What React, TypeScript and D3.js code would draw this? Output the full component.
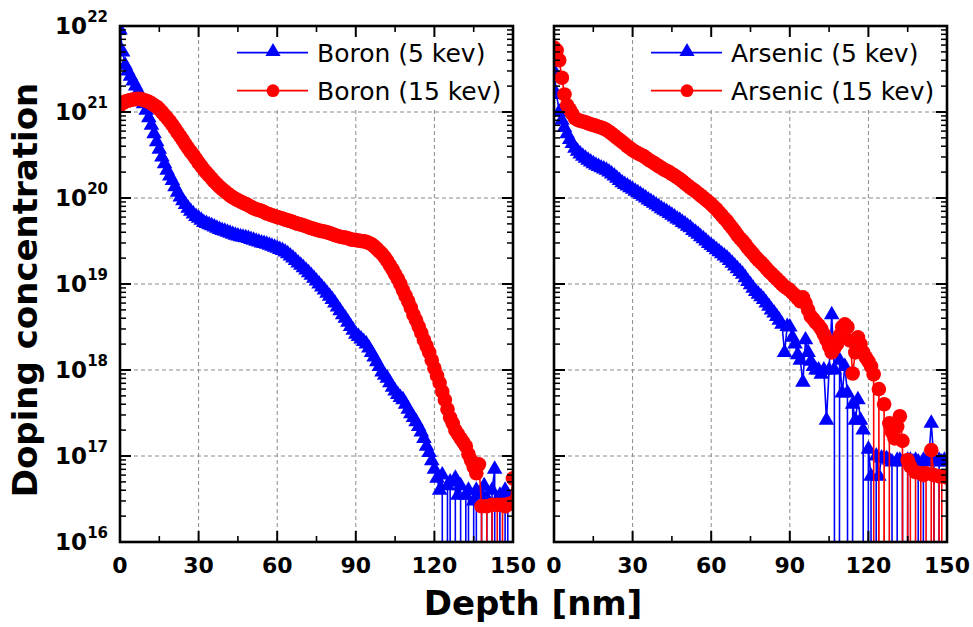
import React from "react";
import * as d3 from "d3";

const depths = [0,1,2,3,4,5,6,7,8,9,10,11,12,13,14,15,16,17,18,19,20,21,22,23,24,25,26,27,28,29,30,31,32,33,34,35,36,37,38,39,40,41,42,43,44,45,46,47,48,49,50,51,52,53,54,55,56,57,58,59,60,61,62,63,64,65,66,67,68,69,70,71,72,73,74,75,76,77,78,79,80,81,82,83,84,85,86,87,88,89,90,91,92,93,94,95,96,97,98,99,100,101,102,103,104,105,106,107,108,109,110,111,112,113,114,115,116,117,118,119,120,121,122,123,124,125,126,127,128,129,130,131,132,133,134,135,136,137,138,139,140,141,142,143,144,145,146,147,148,149,150];

const boron5 = [9e21,5e21,3.5e21,3e21,2.6e21,2.3e21,2e21,1.75e21,1.5e21,1.25e21,1.05e21,8.6e20,7e20,5.6e20,4.5e20,3.7e20,3e20,2.5e20,2.1e20,1.8e20,1.6e20,1.35e20,1.17e20,1.03e20,9.3e19,8.4e19,7.6e19,7e19,6.5e19,6.1e19,5.8e19,5.5e19,5.2e19,5.05e19,4.9e19,4.75e19,4.6e19,4.45e19,4.3e19,4.2e19,4.1e19,4e19,3.9e19,3.8e19,3.7e19,3.62e19,3.55e19,3.5e19,3.45e19,3.38e19,3.3e19,3.22e19,3.15e19,3.08e19,3e19,2.95e19,2.9e19,2.82e19,2.75e19,2.68e19,2.6e19,2.52e19,2.45e19,2.35e19,2.25e19,2.12e19,2e19,1.88e19,1.75e19,1.65e19,1.55e19,1.45e19,1.35e19,1.26e19,1.17e19,1.08e19,1e19,9.2e18,8.5e18,7.8e18,7.2e18,6.6e18,6e18,5.4e18,4.9e18,4.4e18,4e18,3.6e18,3.2e18,2.9e18,2.6e18,2.45e18,2.3e18,2.15e18,2e18,1.8e18,1.6e18,1.42e18,1.25e18,1.1e18,9.5e17,8.7e17,8e17,7.1e17,6.3e17,5.7e17,5.2e17,4.8e17,4.5e17,4e17,3.5e17,3.1e17,2.8e17,2.5e17,2.2e17,1.9e17,1.6e17,1.3e17,1.1e17,8.8e16,7e16,5.5e16,4e16,6e16,0,4.5e16,5e16,0,5.5e16,3.5e16,4.5e16,0,3.5e16,4e16,0,3e16,4e16,0,3.5e16,4.5e16,3.2e16,0,4e16,7e16,0,3.5e16,0,4e16,3.5e16,0,3.2e16];

const boron15 = [1.2e21,1.27e21,1.32e21,1.35e21,1.38e21,1.4e21,1.41e21,1.42e21,1.41e21,1.38e21,1.35e21,1.31e21,1.26e21,1.2e21,1.15e21,1.08e21,1e21,9.2e20,8.5e20,7.8e20,7.1e20,6.4e20,5.75e20,5.2e20,4.7e20,4.2e20,3.8e20,3.45e20,3.16e20,2.85e20,2.57e20,2.35e20,2.14e20,1.97e20,1.82e20,1.68e20,1.55e20,1.45e20,1.35e20,1.27e20,1.2e20,1.13e20,1.07e20,1.02e20,9.8e19,9.4e19,9.1e19,8.8e19,8.5e19,8.2e19,7.9e19,7.6e19,7.4e19,7.25e19,7.1e19,6.85e19,6.6e19,6.45e19,6.3e19,6.15e19,6e19,5.9e19,5.75e19,5.6e19,5.5e19,5.4e19,5.25e19,5.1e19,5e19,4.9e19,4.8e19,4.7e19,4.57e19,4.45e19,4.37e19,4.27e19,4.17e19,4.12e19,4.07e19,3.98e19,3.9e19,3.8e19,3.7e19,3.62e19,3.55e19,3.5e19,3.47e19,3.4e19,3.3e19,3.27e19,3.24e19,3.2e19,3.16e19,3.13e19,3.1e19,3e19,2.9e19,2.75e19,2.57e19,2.4e19,2.24e19,2.05e19,1.86e19,1.66e19,1.48e19,1.3e19,1.15e19,1e19,8.5e18,7.3e18,6.3e18,5.3e18,4.4e18,3.8e18,3.2e18,2.7e18,2.24e18,1.9e18,1.6e18,1.3e18,1.05e18,8.6e17,7.1e17,5.6e17,4.5e17,3.5e17,2.8e17,2.4e17,2e17,1.8e17,1.6e17,1.45e17,1.3e17,1.05e17,8.9e16,7.5e16,6.3e16,8e16,2.6e16,0,2.6e16,0,2.7e16,0,2.7e16,0,2.7e16,2.6e16,2.75e16,2.8e16,5.5e16];

const arsenic5 = [3e21,1.6e21,1e21,8e20,6.6e20,5.6e20,4.8e20,4.3e20,3.8e20,3.5e20,3.24e20,3.05e20,2.9e20,2.75e20,2.63e20,2.5e20,2.4e20,2.32e20,2.24e20,2.17e20,2.1e20,2e20,1.9e20,1.8e20,1.7e20,1.6e20,1.5e20,1.44e20,1.38e20,1.32e20,1.26e20,1.2e20,1.15e20,1.1e20,1.05e20,1e20,9.5e19,9.1e19,8.7e19,8.3e19,7.9e19,7.5e19,7.2e19,6.9e19,6.6e19,6.3e19,6e19,5.7e19,5.5e19,5.2e19,5e19,4.7e19,4.5e19,4.2e19,4e19,3.8e19,3.55e19,3.35e19,3.16e19,2.95e19,2.8e19,2.65e19,2.5e19,2.37e19,2.24e19,2.12e19,2e19,1.87e19,1.74e19,1.62e19,1.5e19,1.4e19,1.3e19,1.18e19,1.07e19,9.8e18,8.9e18,8.2e18,7.6e18,7.1e18,6.6e18,6e18,5.5e18,5e18,4.6e18,4.2e18,3.8e18,3.4e18,1.6e18,3.2e18,3.16e18,2.4e18,2e18,1.5e18,1.3e18,7.2e17,2.24e18,1.6e18,1.26e18,1.1e18,1e18,1e18,8.9e17,1e18,2.6e17,1e18,4.4e18,1e18,0,1.3e18,5.4e17,1.1e18,5.4e17,0,4e17,2.6e17,4.5e17,2.6e17,2e17,0,1.2e17,5.8e16,0,1e17,5.8e16,9.5e16,9.5e16,9.3e16,9e16,8.5e16,0,8.9e16,8.9e16,8.5e16,0,8.9e16,8.9e16,8.5e16,8.9e16,8.5e16,0,8.9e16,8.5e16,8.9e16,2.4e17,8.9e16,0,8.9e16,8.5e16,8.9e16,8.5e16];

const arsenic15 = [5.6e21,5.2e21,4e21,2.5e21,1.6e21,1.2e21,1.07e21,9.5e20,8.5e20,8.1e20,7.9e20,7.75e20,7.6e20,7.4e20,7.2e20,7.05e20,6.9e20,6.75e20,6.6e20,6.4e20,6.2e20,5.9e20,5.6e20,5.3e20,5e20,4.75e20,4.5e20,4.25e20,4e20,3.8e20,3.6e20,3.45e20,3.3e20,3.2e20,3.1e20,2.95e20,2.8e20,2.68e20,2.57e20,2.45e20,2.34e20,2.24e20,2.14e20,2.07e20,2e20,1.9e20,1.82e20,1.74e20,1.66e20,1.57e20,1.48e20,1.4e20,1.32e20,1.26e20,1.2e20,1.13e20,1.07e20,1.01e20,9.5e19,9e19,8.5e19,7.9e19,7.4e19,6.8e19,6.3e19,5.8e19,5.4e19,4.9e19,4.5e19,4.1e19,3.7e19,3.4e19,3.16e19,2.9e19,2.63e19,2.43e19,2.24e19,2.05e19,1.9e19,1.78e19,1.66e19,1.53e19,1.41e19,1.32e19,1.23e19,1.15e19,1.07e19,1e19,9.3e18,8.9e18,8.5e18,7.9e18,7.4e18,6.8e18,6.3e18,7e18,6e18,5e18,4.2e18,3.9e18,3.55e18,3.3e18,3e18,2.6e18,2.24e18,1.9e18,1.6e18,1.8e18,2e18,2.5e18,3.16e18,3.4e18,3.16e18,2.2e18,9.1e17,1.6e18,2.4e18,2e18,1.6e18,1.4e18,1.26e18,1.1e18,8.9e17,0,6e17,0,4e17,0,2.4e17,1.9e17,1.6e17,2.2e17,2.9e17,1.5e17,0,9e16,7.6e16,0,6.5e16,0,6.3e16,6e16,6.3e16,0,1.17e17,6e16,0,5.8e16,5.8e16,0,5.6e16];

const xTicks = [0, 30, 60, 90, 120, 150];
const xMinorTicks = [15, 45, 75, 105, 135];
const yExponents = [16, 17, 18, 19, 20, 21, 22];
const legendLeft = ["Boron (5 kev)", "Boron (15 kev)"];
const legendRight = ["Arsenic (5 kev)", "Arsenic (15 kev)"];

const BLUE = "#0000ff";
const RED = "#ff0000";
const TOP = 26;
const BOTTOM = 542;
const PW = 393;
const FONT = "'DejaVu Sans', Verdana, sans-serif";

type Panel = {
  left: number;
  s1: number[];
  s2: number[];
  labels: string[];
  showY: boolean;
  legendX: number;
  id: string;
};

const panels: Panel[] = [
  { left: 120, s1: boron5, s2: boron15, labels: legendLeft, showY: true, legendX: 226, id: "pl" },
  { left: 554, s1: arsenic5, s2: arsenic15, labels: legendRight, showY: false, legendX: 640, id: "pr" },
];

const triPath = (size: number) => d3.symbol().type(d3.symbolTriangle).size(size)() as string;

function PanelView({ p }: { p: Panel }) {
  const x = d3.scaleLinear().domain([0, 150]).range([p.left, p.left + PW]);
  const y = d3.scaleLog().domain([1e16, 1e22]).range([BOTTOM, TOP]);
  const yv = (v: number) => (v > 0 ? y(v) : BOTTOM + 4000);
  const line = d3
    .line<number>()
    .x((_, i) => x(depths[i]))
    .y((v) => yv(v));
  const minorY: number[] = [];
  for (let e = 16; e < 22; e++) for (let m = 2; m <= 9; m++) minorY.push(m * Math.pow(10, e));
  const tri = triPath(105);
  const triL = triPath(100);
  const right = p.left + PW;
  return (
    <g>
      <defs>
        <clipPath id={p.id}>
          <rect x={p.left} y={TOP} width={PW} height={BOTTOM - TOP} />
        </clipPath>
      </defs>
      <g stroke="#8a8a8a" strokeWidth={1} strokeDasharray="4,3">
        {xTicks.slice(1, 5).map((t) => (
          <line key={"gx" + t} x1={x(t)} x2={x(t)} y1={TOP} y2={BOTTOM} />
        ))}
        {yExponents.slice(1, 6).map((e) => (
          <line key={"gy" + e} x1={p.left} x2={right} y1={y(Math.pow(10, e))} y2={y(Math.pow(10, e))} />
        ))}
      </g>
      <rect x={p.legendX} y={TOP + 1} width={right - p.legendX - 2} height={83} fill="#fff" />
      <g clipPath={`url(#${p.id})`}>
        <path d={line(p.s1) || ""} fill="none" stroke={BLUE} strokeWidth={1.6} />
        {p.s1.map((v, i) =>
          v > 0 ? (
            <path key={"a" + i} d={tri} transform={`translate(${x(depths[i])},${y(v)})`} fill={BLUE} />
          ) : null
        )}
        <path d={line(p.s2) || ""} fill="none" stroke={RED} strokeWidth={1.6} />
        {p.s2.map((v, i) =>
          v > 0 ? <circle key={"b" + i} cx={x(depths[i])} cy={y(v)} r={7.3} fill={RED} /> : null
        )}
      </g>
      {p.labels.map((lab, i) => {
        const ly = 52.7 + i * 38;
        const lx0 = p.legendX + 11;
        const col = i === 0 ? BLUE : RED;
        return (
          <g key={lab}>
            <line x1={lx0} x2={lx0 + 71} y1={ly} y2={ly} stroke={col} strokeWidth={1.8} />
            {i === 0 ? (
              <path d={triL} transform={`translate(${lx0 + 36},${ly - 1})`} fill={col} />
            ) : (
              <circle cx={lx0 + 36} cy={ly} r={6.4} fill={col} />
            )}
            <text x={lx0 + 80} y={ly + 9} fontFamily={FONT} fontSize={25} fill="#000">
              {lab}
            </text>
          </g>
        );
      })}
      <g stroke="#000">
        {xTicks.map((t) => (
          <g key={"tx" + t} strokeWidth={2}>
            <line x1={x(t)} x2={x(t)} y1={BOTTOM} y2={BOTTOM - 11} />
            <line x1={x(t)} x2={x(t)} y1={TOP} y2={TOP + 11} />
          </g>
        ))}
        {xMinorTicks.map((t) => (
          <g key={"mx" + t} strokeWidth={1.6}>
            <line x1={x(t)} x2={x(t)} y1={BOTTOM} y2={BOTTOM - 6} />
            <line x1={x(t)} x2={x(t)} y1={TOP} y2={TOP + 6} />
          </g>
        ))}
        {yExponents.map((e) => (
          <g key={"ty" + e} strokeWidth={2}>
            <line x1={p.left} x2={p.left + 11} y1={y(Math.pow(10, e))} y2={y(Math.pow(10, e))} />
            <line x1={right} x2={right - 11} y1={y(Math.pow(10, e))} y2={y(Math.pow(10, e))} />
          </g>
        ))}
        {minorY.map((v, i) => (
          <g key={"my" + i} strokeWidth={1.5}>
            <line x1={p.left} x2={p.left + 6} y1={y(v)} y2={y(v)} />
            <line x1={right} x2={right - 6} y1={y(v)} y2={y(v)} />
          </g>
        ))}
      </g>
      <rect x={p.left} y={TOP} width={PW} height={BOTTOM - TOP} fill="none" stroke="#000" strokeWidth={2.6} />
      {xTicks.map((t) => (
        <text key={"lx" + t} x={x(t)} y={573} textAnchor="middle" fontFamily={FONT} fontWeight="bold" fontSize={22}>
          {t}
        </text>
      ))}
      {p.showY &&
        yExponents.map((e) => {
          const ty = y(Math.pow(10, e));
          return (
            <text key={"ly" + e} x={108} y={ty + 8} textAnchor="end" fontFamily={FONT} fontWeight="bold" fontSize={23}>
              10
              <tspan fontSize={15} dy={-12}>
                {e}
              </tspan>
            </text>
          );
        })}
    </g>
  );
}

export default function App() {
  return (
    <svg width={973} height={627} viewBox="0 0 973 627" style={{ position: "absolute", left: 0, top: 0, background: "#fff" }}>
      <rect x={0} y={0} width={973} height={627} fill="#fff" />
      {panels.map((p) => (
        <PanelView key={p.id} p={p} />
      ))}
      <text x={533} y={615} textAnchor="middle" fontFamily={FONT} fontWeight="bold" fontSize={34}>
        Depth [nm]
      </text>
      <text transform="translate(37,290) rotate(-90)" textAnchor="middle" fontFamily={FONT} fontWeight="bold" fontSize={34}>
        Doping concentration
      </text>
    </svg>
  );
}
